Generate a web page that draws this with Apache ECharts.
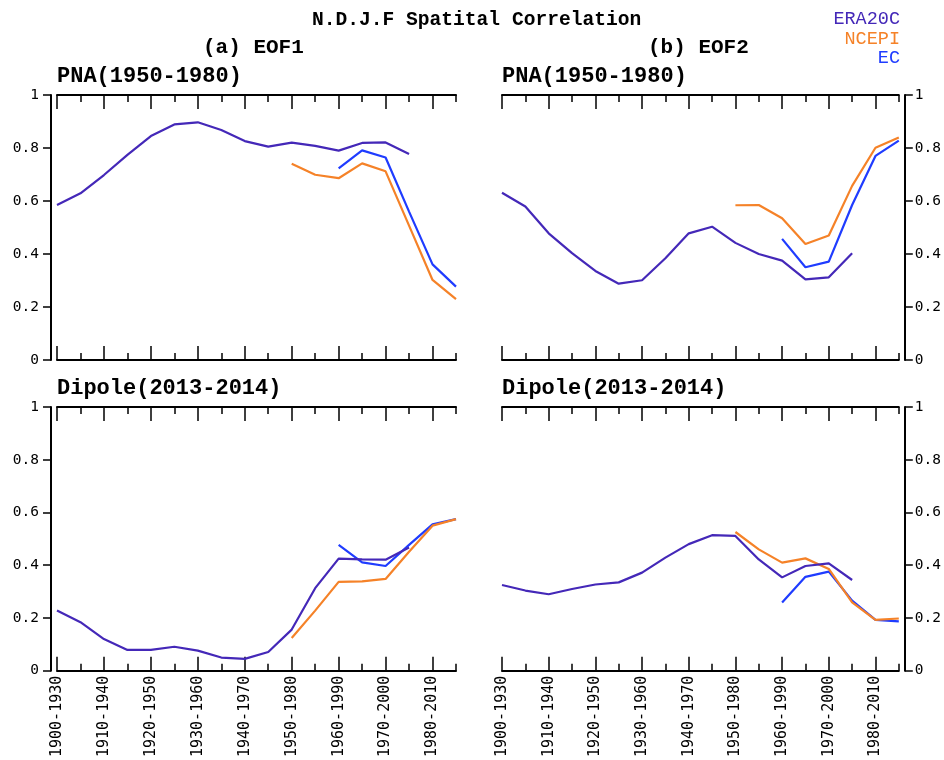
<!DOCTYPE html>
<html>
<head>
<meta charset="utf-8">
<script src="https://cdn.jsdelivr.net/npm/echarts@6/dist/echarts.min.js"></script>
<style>
html,body{margin:0;padding:0;background:#fff;}
#chart{width:944px;height:760px;}
</style>
</head>
<body>
<div id="chart"></div>
<script>
// ---------- data ----------
const periods = ['1900-1930','1905-1935','1910-1940','1915-1945','1920-1950','1925-1955','1930-1960','1935-1965','1940-1970','1945-1975','1950-1980','1955-1985','1960-1990','1965-1995','1970-2000','1975-2005','1980-2010','1985-2015'];
const yTicks = [0, 0.2, 0.4, 0.6, 0.8, 1];
const datasetNames = ['ERA20C', 'NCEPI', 'EC'];
const datasetColors = ['#4428b8', '#f58228', '#1f3cff'];

// (a) EOF1, PNA(1950-1980)
const eof1PnaEra20c = [0.585,0.629,0.698,0.774,0.845,0.889,0.897,0.868,0.826,0.805,0.820,0.808,0.790,0.819,0.821,0.777,null,null];
const eof1PnaNcepi  = [null,null,null,null,null,null,null,null,null,null,0.741,0.699,0.686,0.742,0.712,0.507,0.302,0.230];
const eof1PnaEc     = [null,null,null,null,null,null,null,null,null,null,null,null,0.723,0.791,0.764,0.560,0.361,0.277];
// (b) EOF2, PNA(1950-1980)
const eof2PnaEra20c = [0.631,0.579,0.478,0.403,0.336,0.288,0.301,0.384,0.478,0.503,0.442,0.400,0.375,0.304,0.312,0.403,null,null];
const eof2PnaNcepi  = [null,null,null,null,null,null,null,null,null,null,0.584,0.585,0.535,0.438,0.470,0.657,0.801,0.840];
const eof2PnaEc     = [null,null,null,null,null,null,null,null,null,null,null,null,0.457,0.350,0.371,0.585,0.770,0.828];
// (a) EOF1, Dipole(2013-2014)
const eof1DipEra20c = [0.228,0.184,0.120,0.079,0.079,0.091,0.076,0.050,0.045,0.071,0.156,0.313,0.425,0.422,0.421,0.467,null,null];
const eof1DipNcepi  = [null,null,null,null,null,null,null,null,null,null,0.124,0.228,0.337,0.339,0.348,0.451,0.550,0.575];
const eof1DipEc     = [null,null,null,null,null,null,null,null,null,null,null,null,0.477,0.411,0.397,0.477,0.555,0.575];
// (b) EOF2, Dipole(2013-2014)
const eof2DipEra20c = [0.325,0.304,0.290,0.310,0.327,0.335,0.372,0.429,0.480,0.514,0.511,0.422,0.354,0.397,0.407,0.344,null,null];
const eof2DipNcepi  = [null,null,null,null,null,null,null,null,null,null,0.526,0.460,0.410,0.426,0.386,0.259,0.193,0.198];
const eof2DipEc     = [null,null,null,null,null,null,null,null,null,null,null,null,0.259,0.356,0.376,0.266,0.193,0.187];

const panels = [
  {left:57,  top:95,  height:265, yPos:'left',  subtitle:'PNA(1950-1980)',    series:[eof1PnaEra20c, eof1PnaNcepi, eof1PnaEc], labels:false},
  {left:502, top:95,  height:265, yPos:'right', subtitle:'PNA(1950-1980)',    series:[eof2PnaEra20c, eof2PnaNcepi, eof2PnaEc], labels:false},
  {left:57,  top:407, height:264, yPos:'left',  subtitle:'Dipole(2013-2014)', series:[eof1DipEra20c, eof1DipNcepi, eof1DipEc], labels:true},
  {left:502, top:407, height:264, yPos:'right', subtitle:'Dipole(2013-2014)', series:[eof2DipEra20c, eof2DipNcepi, eof2DipEc], labels:true}
];

// ---------- build option ----------
const PW = 399;
const titleFont = 'Liberation Mono';
const tickFont = 'DejaVu Sans Mono';
const grids = [], xAxes = [], yAxes = [], series = [], graphics = [];
const axisColor = '#000';

panels.forEach((p, gi) => {
  grids.push({left:p.left, top:p.top, width:PW, height:p.height, containLabel:false});
  const base = {type:'category', data:periods, gridIndex:gi, boundaryGap:false, splitLine:{show:false}};
  const mainIdx = xAxes.length;
  xAxes.push(Object.assign({}, base, {
    position:'bottom',
    axisLine:{show:true, lineStyle:{color:axisColor, width:2}},
    axisTick:{show:true, inside:true, length:7, interval:0, lineStyle:{color:axisColor, width:1.5}},
    axisLabel:{show:p.labels, interval:1, rotate:90, margin:5, color:'#000',
               fontFamily:tickFont, fontSize:15}
  }));
  xAxes.push(Object.assign({}, base, {
    position:'bottom',
    axisLine:{show:false},
    axisTick:{show:true, inside:true, length:14, interval:1, lineStyle:{color:axisColor, width:1.5}},
    axisLabel:{show:false}
  }));
  xAxes.push(Object.assign({}, base, {
    position:'top',
    axisLine:{show:true, lineStyle:{color:axisColor, width:2}},
    axisTick:{show:true, inside:true, length:7, interval:0, lineStyle:{color:axisColor, width:1.5}},
    axisLabel:{show:false}
  }));
  xAxes.push(Object.assign({}, base, {
    position:'top',
    axisLine:{show:false},
    axisTick:{show:true, inside:true, length:14, interval:1, lineStyle:{color:axisColor, width:1.5}},
    axisLabel:{show:false}
  }));

  const yIdx = yAxes.length;
  yAxes.push({
    type:'value', gridIndex:gi, position:p.yPos, offset:6,
    min:yTicks[0], max:yTicks[yTicks.length-1], interval:yTicks[1]-yTicks[0],
    splitLine:{show:false},
    axisLine:{show:true, lineStyle:{color:axisColor, width:2}},
    axisTick:{show:true, inside:false, length:8, lineStyle:{color:axisColor, width:1.5}},
    axisLabel:{show:true, margin:(p.yPos === 'left' ? 12 : 10), color:'#000', fontFamily:tickFont, fontSize:14.5,
               formatter: v => String(Math.round(v*10)/10)}
  });

  p.series.forEach((arr, si) => {
    series.push({
      name:datasetNames[si], type:'line', xAxisIndex:mainIdx, yAxisIndex:yIdx,
      data:arr, showSymbol:false, symbol:'none', connectNulls:false,
      lineStyle:{color:datasetColors[si], width:2.2}, itemStyle:{color:datasetColors[si]},
      z:10 - si, silent:true, animation:false
    });
  });

  graphics.push({
    type:'text', left:p.left, top:p.top - 30,
    style:{text:p.subtitle, fill:'#000', font:'bold 22px "' + titleFont + '"'}
  });
});

graphics.push({type:'text', left:312, top:10,
  style:{text:'N.D.J.F Spatital Correlation', fill:'#000', font:'bold 19.6px "' + titleFont + '"'}});
graphics.push({type:'text', left:203, top:37,
  style:{text:'(a) EOF1', fill:'#000', font:'bold 21px "' + titleFont + '"'}});
graphics.push({type:'text', left:648, top:37,
  style:{text:'(b) EOF2', fill:'#000', font:'bold 21px "' + titleFont + '"'}});

const legends = datasetNames.map((n, i) => ({
  show:true, orient:'vertical', right:44, top:10 + i*19.5,
  data:[{name:n, icon:'none', textStyle:{color:datasetColors[i]}}],
  itemWidth:0, itemHeight:0, itemGap:0, padding:0, selectedMode:false,
  textStyle:{fontFamily:titleFont, fontSize:18.5, padding:0}
}));

const option = {
  animation:false,
  backgroundColor:'#fff',
  grid:grids, xAxis:xAxes, yAxis:yAxes, series:series,
  legend:legends,
  graphic:graphics
};

const chart = echarts.init(document.getElementById('chart'), null, {renderer:'canvas'});
chart.setOption(option);
</script>
</body>
</html>
